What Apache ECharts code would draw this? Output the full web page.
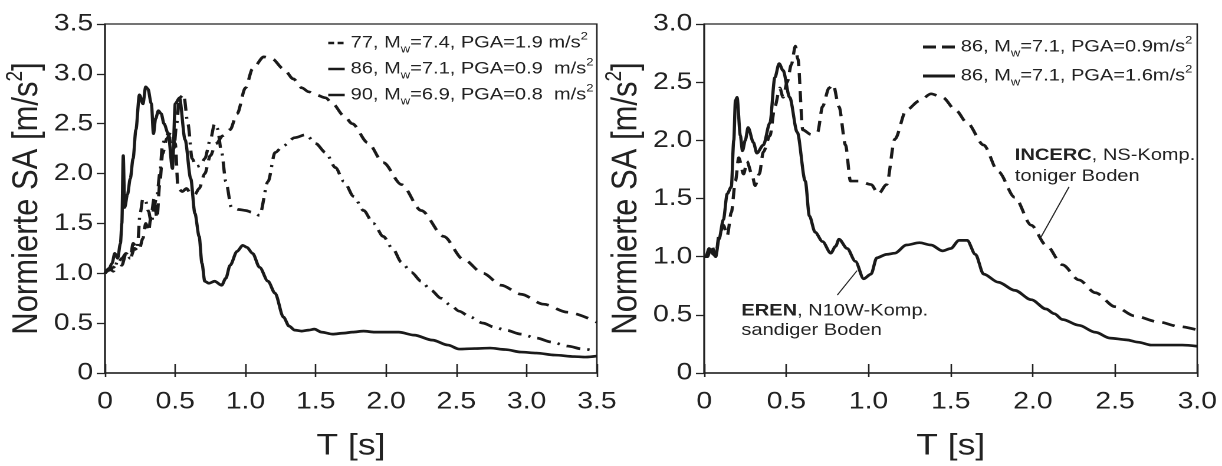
<!DOCTYPE html>
<html>
<head>
<meta charset="utf-8">
<script src="https://cdn.jsdelivr.net/npm/echarts@6/dist/echarts.min.js"></script>
<style>
html,body{margin:0;padding:0;background:#fff;overflow:hidden;width:1222px;height:466px;}
#c{width:1036px;height:466px;transform:scaleX(1.17954);transform-origin:0 0;}
</style>
</head>
<body>
<div id="c"></div>
<script>
// ---- data (period T in s, normalized SA) ----
var leftXTicks = ['0','0.5','1.0','1.5','2.0','2.5','3.0','3.5'];
var leftYTicks = ['0','0.5','1.0','1.5','2.0','2.5','3.0','3.5'];
var rightXTicks = ['0','0.5','1.0','1.5','2.0','2.5','3.0'];
var rightYTicks = ['0','0.5','1.0','1.5','2.0','2.5','3.0'];

var leftNames = ['77, Mw=7.4, PGA=1.9 m/s2', '86, Mw=7.1, PGA=0.9 m/s2', '90, Mw=6.9, PGA=0.8 m/s2'];
var leftLabels = ['77, M{sub|w}=7.4, PGA=1.9 m/s{sup|2}', '86, M{sub|w}=7.1, PGA=0.9  m/s{sup|2}', '90, M{sub|w}=6.9, PGA=0.8  m/s{sup|2}'];
var rightNames = ['86 INCERC, PGA=0.9m/s2', '86 EREN, PGA=1.6m/s2'];
var rightLabels = ['86, M{sub|w}=7.1, PGA=0.9m/s{sup|2}', '86, M{sub|w}=7.1, PGA=1.6m/s{sup|2}'];

var t77 = [0, 0.03, 0.06, 0.09, 0.12, 0.15, 0.18, 0.21, 0.24, 0.27, 0.29, 0.31, 0.33, 0.35, 0.37, 0.39, 0.41, 0.44, 0.47, 0.5, 0.52, 0.55, 0.58, 0.61, 0.64, 0.67, 0.71, 0.75, 0.79, 0.84, 0.89, 0.94, 1.0, 1.05, 1.13, 1.19, 1.27, 1.34, 1.4, 1.45, 1.5, 1.57, 1.62, 1.7, 1.76, 1.87, 1.98, 2.11, 2.25, 2.41, 2.55, 2.69, 2.82, 2.96, 3.12, 3.29, 3.5];
var sa77 = [1.0, 1.03, 1.06, 1.1, 1.15, 1.2, 1.15, 1.25, 1.22, 1.35, 1.5, 1.42, 1.6, 1.75, 1.55, 1.9, 2.2, 2.35, 2.42, 2.3, 1.85, 1.82, 1.85, 1.8, 1.79, 1.85, 2.0, 2.18, 2.3, 2.38, 2.44, 2.6, 2.86, 3.05, 3.17, 3.15, 3.05, 2.95, 2.86, 2.82, 2.79, 2.76, 2.70, 2.58, 2.50, 2.31, 2.11, 1.89, 1.63, 1.37, 1.14, 1.0, 0.88, 0.79, 0.69, 0.61, 0.51];

var t86 = [0, 0.03, 0.06, 0.09, 0.12, 0.15, 0.18, 0.2, 0.23, 0.25, 0.27, 0.29, 0.31, 0.33, 0.35, 0.37, 0.39, 0.41, 0.43, 0.45, 0.47, 0.49, 0.51, 0.53, 0.56, 0.59, 0.62, 0.65, 0.68, 0.71, 0.75, 0.78, 0.8, 0.83, 0.86, 0.9, 0.95, 1.0, 1.05, 1.1, 1.16, 1.21, 1.27, 1.35, 1.43, 1.5, 1.57, 1.64, 1.7, 1.77, 1.84, 1.91, 1.98, 2.05, 2.11, 2.18, 2.25, 2.32, 2.39, 2.46, 2.52, 2.6, 2.69, 2.77, 2.85, 2.96, 3.07, 3.18, 3.29, 3.4, 3.5];
var sa86 = [1.0, 1.05, 1.02, 1.12, 1.08, 1.2, 1.15, 1.3, 1.25, 1.6, 1.75, 1.72, 1.62, 1.5, 1.68, 1.78, 2.0, 2.3, 2.35, 2.4, 2.3, 2.25, 2.5, 2.76, 2.79, 2.5, 2.15, 2.07, 2.08, 2.15, 2.34, 2.5, 2.45, 2.21, 1.92, 1.66, 1.64, 1.63, 1.61, 1.58, 1.92, 2.21, 2.28, 2.36, 2.39, 2.3, 2.21, 2.06, 1.92, 1.77, 1.63, 1.5, 1.37, 1.24, 1.11, 1.01, 0.92, 0.83, 0.75, 0.68, 0.62, 0.56, 0.50, 0.46, 0.43, 0.39, 0.35, 0.31, 0.27, 0.24, 0.22];

var t90 = [0, 0.03, 0.05, 0.07, 0.09, 0.11, 0.12, 0.13, 0.14, 0.16, 0.18, 0.2, 0.22, 0.245, 0.27, 0.29, 0.305, 0.33, 0.345, 0.36, 0.38, 0.4, 0.42, 0.45, 0.48, 0.5, 0.53, 0.57, 0.61, 0.64, 0.67, 0.69, 0.71, 0.74, 0.78, 0.83, 0.86, 0.89, 0.94, 0.98, 1.01, 1.05, 1.1, 1.16, 1.21, 1.27, 1.31, 1.35, 1.4, 1.45, 1.49, 1.54, 1.62, 1.7, 1.76, 1.84, 1.92, 1.98, 2.09, 2.2, 2.33, 2.44, 2.52, 2.63, 2.74, 2.85, 2.96, 3.07, 3.2, 3.34, 3.42, 3.5];
var sa90 = [1.0, 1.05, 1.1, 1.2, 1.15, 1.3, 1.5, 2.18, 1.66, 1.79, 1.95, 2.15, 2.44, 2.79, 2.70, 2.87, 2.85, 2.7, 2.40, 2.55, 2.63, 2.6, 2.5, 2.40, 2.05, 2.7, 2.76, 2.34, 1.95, 1.6, 1.37, 1.1, 0.92, 0.90, 0.92, 0.88, 0.95, 1.08, 1.22, 1.28, 1.26, 1.2, 1.06, 0.92, 0.8, 0.56, 0.47, 0.43, 0.42, 0.43, 0.44, 0.41, 0.39, 0.40, 0.41, 0.42, 0.41, 0.41, 0.41, 0.38, 0.33, 0.28, 0.24, 0.245, 0.25, 0.235, 0.21, 0.20, 0.18, 0.165, 0.16, 0.17];

var tInc = [0, 0.02, 0.045, 0.07, 0.09, 0.117, 0.14, 0.165, 0.19, 0.21, 0.24, 0.26, 0.29, 0.31, 0.335, 0.36, 0.4, 0.43, 0.46, 0.48, 0.505, 0.53, 0.555, 0.57, 0.6, 0.65, 0.69, 0.72, 0.76, 0.785, 0.82, 0.86, 0.89, 0.94, 1.015, 1.06, 1.11, 1.16, 1.23, 1.31, 1.38, 1.45, 1.53, 1.6, 1.7, 1.79, 1.89, 1.99, 2.08, 2.18, 2.28, 2.38, 2.5, 2.62, 2.76, 2.89, 3.0];
var saInc = [1.0, 1.0, 1.1, 1.0, 1.18, 1.27, 1.18, 1.38, 1.65, 1.85, 1.71, 1.82, 1.71, 1.61, 1.71, 1.9, 2.04, 2.29, 2.45, 2.37, 2.5, 2.65, 2.81, 2.7, 2.09, 2.05, 2.07, 2.29, 2.45, 2.48, 2.29, 1.96, 1.65, 1.65, 1.62, 1.54, 1.62, 2.01, 2.26, 2.34, 2.40, 2.37, 2.26, 2.15, 1.96, 1.73, 1.51, 1.27, 1.10, 0.93, 0.80, 0.69, 0.57, 0.49, 0.44, 0.40, 0.37];

var tEr = [0, 0.01, 0.03, 0.056, 0.07, 0.09, 0.117, 0.14, 0.165, 0.18, 0.19, 0.2, 0.22, 0.233, 0.25, 0.267, 0.3, 0.32, 0.36, 0.4, 0.43, 0.456, 0.48, 0.52, 0.566, 0.615, 0.64, 0.675, 0.72, 0.77, 0.8, 0.82, 0.87, 0.92, 0.97, 1.015, 1.05, 1.11, 1.16, 1.23, 1.31, 1.38, 1.45, 1.5, 1.55, 1.6, 1.65, 1.7, 1.79, 1.89, 1.99, 2.08, 2.13, 2.18, 2.28, 2.38, 2.47, 2.57, 2.64, 2.72, 2.81, 2.91, 3.0];
var saEr = [1.0, 1.0, 1.07, 1.02, 1.0, 1.15, 1.32, 1.54, 1.6, 2.0, 2.34, 2.37, 2.04, 1.91, 2.0, 2.11, 1.98, 1.89, 1.96, 2.15, 2.54, 2.66, 2.6, 2.37, 2.07, 1.65, 1.35, 1.21, 1.13, 1.03, 1.09, 1.15, 1.07, 0.96, 0.81, 0.85, 0.99, 1.02, 1.03, 1.10, 1.12, 1.10, 1.05, 1.07, 1.14, 1.14, 1.02, 0.85, 0.78, 0.71, 0.63, 0.55, 0.51, 0.46, 0.41, 0.35, 0.30, 0.285, 0.265, 0.24, 0.24, 0.24, 0.23];

// annotation anchors (data coordinates of right panel)
var incercLeader = [[2.22, 1.60], [2.05, 1.17]];
var erenLeader = [[0.81, 0.67], [0.93, 0.88]];
var incercText = {t: 1.89, lines: [1.87, 1.69], rows: ['{b|INCERC}, NS-Komp.', 'toniger Boden']};
var erenText = {t: 0.226, lines: [0.533, 0.367], rows: ['{b|EREN}, N10W-Komp.', 'sandiger Boden']};

// ---- chart ----
function zip(a, b) { return a.map(function (v, i) { return [v, b[i]]; }); }
var FONT = "'Liberation Sans', Arial, sans-serif";
var INK = '#1a1a1a';
var AX = '#222';

function mkX(grid, max, ticks) {
  return [{
    type: 'value', gridIndex: grid, min: 0, max: max, interval: 0.5, position: 'bottom',
    name: 'T [s]', nameLocation: 'middle', nameGap: 58,
    nameTextStyle: {fontSize: 30, fontFamily: FONT, color: AX},
    axisLine: {lineStyle: {color: AX, width: 1.5}},
    axisTick: {inside: true, length: 9, lineStyle: {color: AX, width: 1.3}},
    axisLabel: {margin: 17, fontSize: 24, fontFamily: FONT, color: AX,
      formatter: function (v) { return ticks[Math.round(v / 0.5)]; }},
    splitLine: {show: false}
  }, {
    type: 'value', gridIndex: grid, min: 0, max: max, interval: 0.5, position: 'bottom',
    axisLine: {show: false},
    axisTick: {inside: false, length: 4, lineStyle: {color: AX, width: 1.3}},
    axisLabel: {show: false}, splitLine: {show: false}
  }];
}
function mkY(grid, max, ticks) {
  return {
    type: 'value', gridIndex: grid, min: 0, max: max, interval: 0.5,
    name: 'Normierte SA [m/s{sup|2}]', nameLocation: 'middle', nameGap: 39,
    nameTextStyle: {fontSize: 31, fontFamily: FONT, color: AX, lineHeight: 38,
      rich: {sup: {fontSize: 19, fontFamily: FONT, color: AX, verticalAlign: 'top', lineHeight: 19}}},
    axisLine: {lineStyle: {color: AX, width: 1.5}},
    axisTick: {inside: false, length: 7, lineStyle: {color: AX, width: 1.3}},
    axisLabel: {margin: 10, fontSize: 24, fontFamily: FONT, color: AX,
      formatter: function (v) { return ticks[Math.round(v / 0.5)]; }},
    splitLine: {show: false}
  };
}
var xl = mkX(0, 3.5, leftXTicks), xr = mkX(1, 3.0, rightXTicks);
var legendRich = {
  sub: {fontSize: 11, fontFamily: FONT, color: AX, verticalAlign: 'bottom', lineHeight: 11},
  sup: {fontSize: 11, fontFamily: FONT, color: AX, verticalAlign: 'top', lineHeight: 11}
};
var hiddenSymbol = {opacity: 0, color: 'rgba(0,0,0,0)', borderWidth: 0};
function lineSeries(name, xi, yi, data, type, width) {
  return {
    name: name, type: 'line', xAxisIndex: xi, yAxisIndex: yi, data: data,
    showSymbol: false, symbol: 'none', smooth: 0.3, smoothMonotone: 'x',
    lineStyle: {color: INK, width: width, type: type, cap: 'butt'},
    itemStyle: {color: 'rgba(0,0,0,0)', borderWidth: 0}, animation: false, z: 3
  };
}
function leader(xi, yi, data) {
  return {type: 'line', xAxisIndex: xi, yAxisIndex: yi, data: data, symbol: 'none', silent: true,
    lineStyle: {color: AX, width: 1}, animation: false, z: 2, tooltip: {show: false}};
}

var option = {
  backgroundColor: '#fff',
  animation: false,
  grid: [
    {left: 89, top: 24, width: 417, height: 360, show: true, borderColor: AX, borderWidth: 1.3, containLabel: false},
    {left: 597, top: 24, width: 418, height: 360, show: true, borderColor: AX, borderWidth: 1.3, containLabel: false}
  ],
  xAxis: [xl[0], xr[0], xl[1], xr[1]],
  yAxis: [mkY(0, 3.5, leftYTicks), mkY(1, 3.0, rightYTicks)],
  legend: [{
    orient: 'vertical', left: 277, top: 31, padding: 0, itemWidth: 14, itemHeight: 12, itemGap: 2,
    itemStyle: hiddenSymbol,
    data: [
      {name: leftNames[0], lineStyle: {type: [5, 3], width: 2.5}, itemStyle: hiddenSymbol},
      {name: leftNames[1], lineStyle: {type: 'solid', width: 2.5}, itemStyle: hiddenSymbol},
      {name: leftNames[2], lineStyle: {type: 'solid', width: 2.5}, itemStyle: hiddenSymbol}
    ],
    formatter: function (n) { return leftLabels[leftNames.indexOf(n)]; },
    textStyle: {fontSize: 17, fontFamily: FONT, color: AX, lineHeight: 24, rich: legendRich},
    selectedMode: false
  }, {
    orient: 'vertical', left: 781, top: 35, padding: 0, itemWidth: 27, itemHeight: 12, itemGap: 5,
    itemStyle: hiddenSymbol,
    data: [
      {name: rightNames[0], lineStyle: {type: [11, 5], width: 3}, itemStyle: hiddenSymbol},
      {name: rightNames[1], lineStyle: {type: 'solid', width: 3}, itemStyle: hiddenSymbol}
    ],
    formatter: function (n) { return rightLabels[rightNames.indexOf(n)]; },
    textStyle: {fontSize: 17, fontFamily: FONT, color: AX, lineHeight: 24, rich: legendRich},
    selectedMode: false
  }],
  series: [
    lineSeries(leftNames[0], 0, 0, zip(t77, sa77), [11, 7], 2.7),
    lineSeries(leftNames[1], 0, 0, zip(t86, sa86), [12, 6, 2, 6], 2.7),
    lineSeries(leftNames[2], 0, 0, zip(t90, sa90), 'solid', 2.7),
    lineSeries(rightNames[0], 1, 1, zip(tInc, saInc), [11, 7], 2.7),
    lineSeries(rightNames[1], 1, 1, zip(tEr, saEr), 'solid', 2.7),
    leader(1, 1, incercLeader),
    leader(1, 1, erenLeader)
  ]
};

var chart = echarts.init(document.getElementById('c'), null, {renderer: 'canvas', devicePixelRatio: 2});
chart.setOption(option);

function annot(spec) {
  return spec.rows.map(function (row, i) {
    var p = chart.convertToPixel({gridIndex: 1}, [spec.t, spec.lines[i]]);
    return {
      type: 'text', x: p[0], y: p[1], silent: true, z: 10,
      style: {text: row, fontSize: 17, fontFamily: FONT, fill: AX, textAlign: 'left', textVerticalAlign: 'middle',
        rich: {b: {fontSize: 17, fontFamily: FONT, fontWeight: 'bold', fill: AX, color: AX}}}
    };
  });
}
chart.setOption({graphic: annot(incercText).concat(annot(erenText))});
</script>
</body>
</html>
